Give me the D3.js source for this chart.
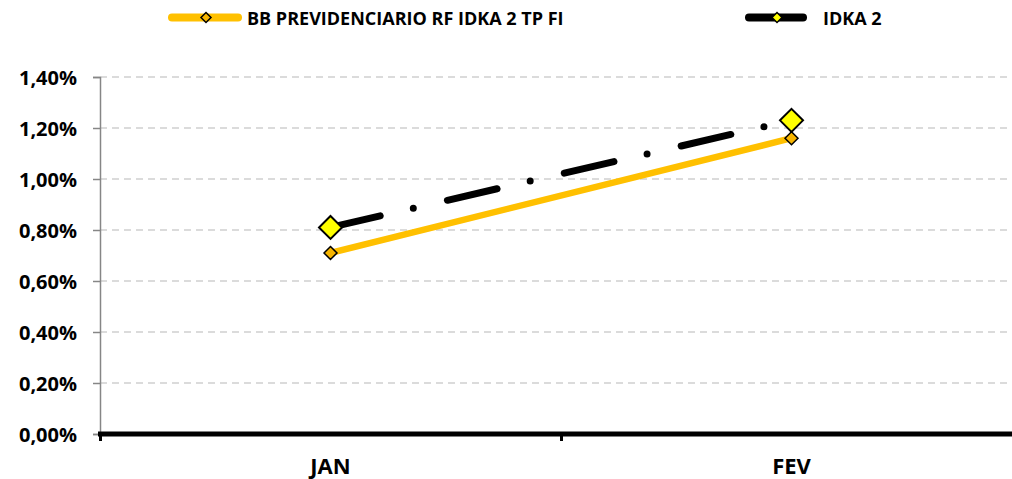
<!DOCTYPE html>
<html>
<head>
<meta charset="utf-8">
<script src="https://cdn.jsdelivr.net/npm/d3@7"></script>
<style>
  body { margin: 0; background: #fff; }
  text { font-family: "Open Sans", sans-serif; font-weight: bold; fill: #000; }
</style>
</head>
<body>
<div id="chart"></div>
<script>
// chart data
var months = ["JAN", "FEV"];
var fundValues = [0.0071, 0.0116];   // BB PREVIDENCIARIO RF IDKA 2 TP FI
var idkaValues = [0.0081, 0.0123];   // IDKA 2
var yTicks = [0, 0.002, 0.004, 0.006, 0.008, 0.010, 0.012, 0.014];
var seriesNames = ["BB PREVIDENCIARIO RF IDKA 2 TP FI", "IDKA 2"];

var width = 1012, height = 479;
var margin = {top: 77, left: 100, bottom: 45};

var svg = d3.select("#chart").append("svg")
    .attr("width", width)
    .attr("height", height);

// scales
var x = d3.scaleBand().domain(months).range([margin.left, margin.left + 922]);
var y = d3.scaleLinear().domain([0, 0.014]).range([height - margin.bottom, margin.top]);
var cx = function(d, i) { return x(months[i]) + x.bandwidth() / 2; };

var fmt = function(v) { return d3.format(".2f")(v * 100).replace(".", ",") + "%"; };

// gridlines
svg.append("g")
  .selectAll("line")
  .data(yTicks.filter(function(d) { return d > 0; }))
  .enter().append("line")
    .attr("x1", margin.left).attr("x2", width)
    .attr("y1", function(d) { return y(d); })
    .attr("y2", function(d) { return y(d); })
    .attr("stroke", "#cfcfcf")
    .attr("stroke-width", 1.5)
    .attr("stroke-dasharray", "7 5");

// y axis
var yAxis = svg.append("g")
    .attr("transform", "translate(" + margin.left + ",0)")
    .call(d3.axisLeft(y).tickValues(yTicks).tickFormat(fmt).tickSize(7).tickPadding(16));
yAxis.select(".domain").attr("stroke", "#868686").attr("stroke-width", 1.5);
yAxis.selectAll(".tick line").attr("stroke", "#868686").attr("stroke-width", 1.5);
yAxis.selectAll(".tick text")
    .style("font-size", "20px")
    .attr("dy", "0.36em");

// x axis
var xAxis = svg.append("g")
    .attr("transform", "translate(0," + y(0) + ")")
    .call(d3.axisBottom(x).tickSize(0).tickPadding(24));
xAxis.select(".domain").attr("stroke", "#000").attr("stroke-width", 5).attr("d", "M" + (margin.left - 2) + ",0H" + (width + 10));
xAxis.selectAll(".tick text").style("font-size", "22px").attr("dy", "0.71em");
// category boundary ticks
xAxis.selectAll(".sep")
  .data(months)
  .enter().append("line")
    .attr("class", "sep")
    .attr("x1", function(d) { return x(d) + 0.5; })
    .attr("x2", function(d) { return x(d) + 0.5; })
    .attr("y1", 0).attr("y2", 7)
    .attr("stroke", "#000").attr("stroke-width", 3);

var line = d3.line()
    .x(cx)
    .y(function(d) { return y(d); });

var diamond = function(r) {
  return "M0," + (-r) + "L" + r + ",0L0," + r + "L" + (-r) + ",0Z";
};

// IDKA 2 series
svg.append("path")
    .datum(idkaValues)
    .attr("d", line)
    .attr("fill", "none")
    .attr("stroke", "#000")
    .attr("stroke-width", 7)
    .attr("stroke-linecap", "round")
    .attr("stroke-dasharray", "51 34 0 35");

svg.append("g").selectAll("path")
  .data(idkaValues)
  .enter().append("path")
    .attr("transform", function(d, i) { return "translate(" + cx(d, i) + "," + y(d) + ")"; })
    .attr("d", diamond(11.5))
    .attr("fill", "#ffff00")
    .attr("stroke", "#000")
    .attr("stroke-width", 2);

// fund series
svg.append("path")
    .datum(fundValues)
    .attr("d", line)
    .attr("fill", "none")
    .attr("stroke", "#ffc000")
    .attr("stroke-width", 6.5);

svg.append("g").selectAll("path")
  .data(fundValues)
  .enter().append("path")
    .attr("transform", function(d, i) { return "translate(" + cx(d, i) + "," + y(d) + ")"; })
    .attr("d", diamond(6.5))
    .attr("fill", "#f7b500")
    .attr("stroke", "#000")
    .attr("stroke-width", 1.5);

// legend
var legendItems = [
  {name: seriesNames[0], x: 168, len: 74, color: "#ffc000", mfill: "#f7b500", gap: 5},
  {name: seriesNames[1], x: 745, len: 62, color: "#000", mfill: "#ffff00", gap: 16}
];
var legend = svg.append("g").selectAll("g")
  .data(legendItems)
  .enter().append("g")
    .attr("transform", function(d) { return "translate(" + d.x + ",17.5)"; });
legend.append("line")
    .attr("x1", 4).attr("x2", function(d) { return d.len - 4; })
    .attr("stroke", function(d) { return d.color; })
    .attr("stroke-width", 8)
    .attr("stroke-linecap", "round");
legend.append("path")
    .attr("transform", function(d) { return "translate(" + (d.len / 2 + 1) + ",0)"; })
    .attr("d", diamond(5))
    .attr("fill", function(d) { return d.mfill; })
    .attr("stroke", "#000")
    .attr("stroke-width", 1.5);
legend.append("text")
    .attr("x", function(d) { return d.len + d.gap; })
    .attr("y", 7.5)
    .style("font-size", "18px")
    .text(function(d) { return d.name; });
</script>
</body>
</html>
